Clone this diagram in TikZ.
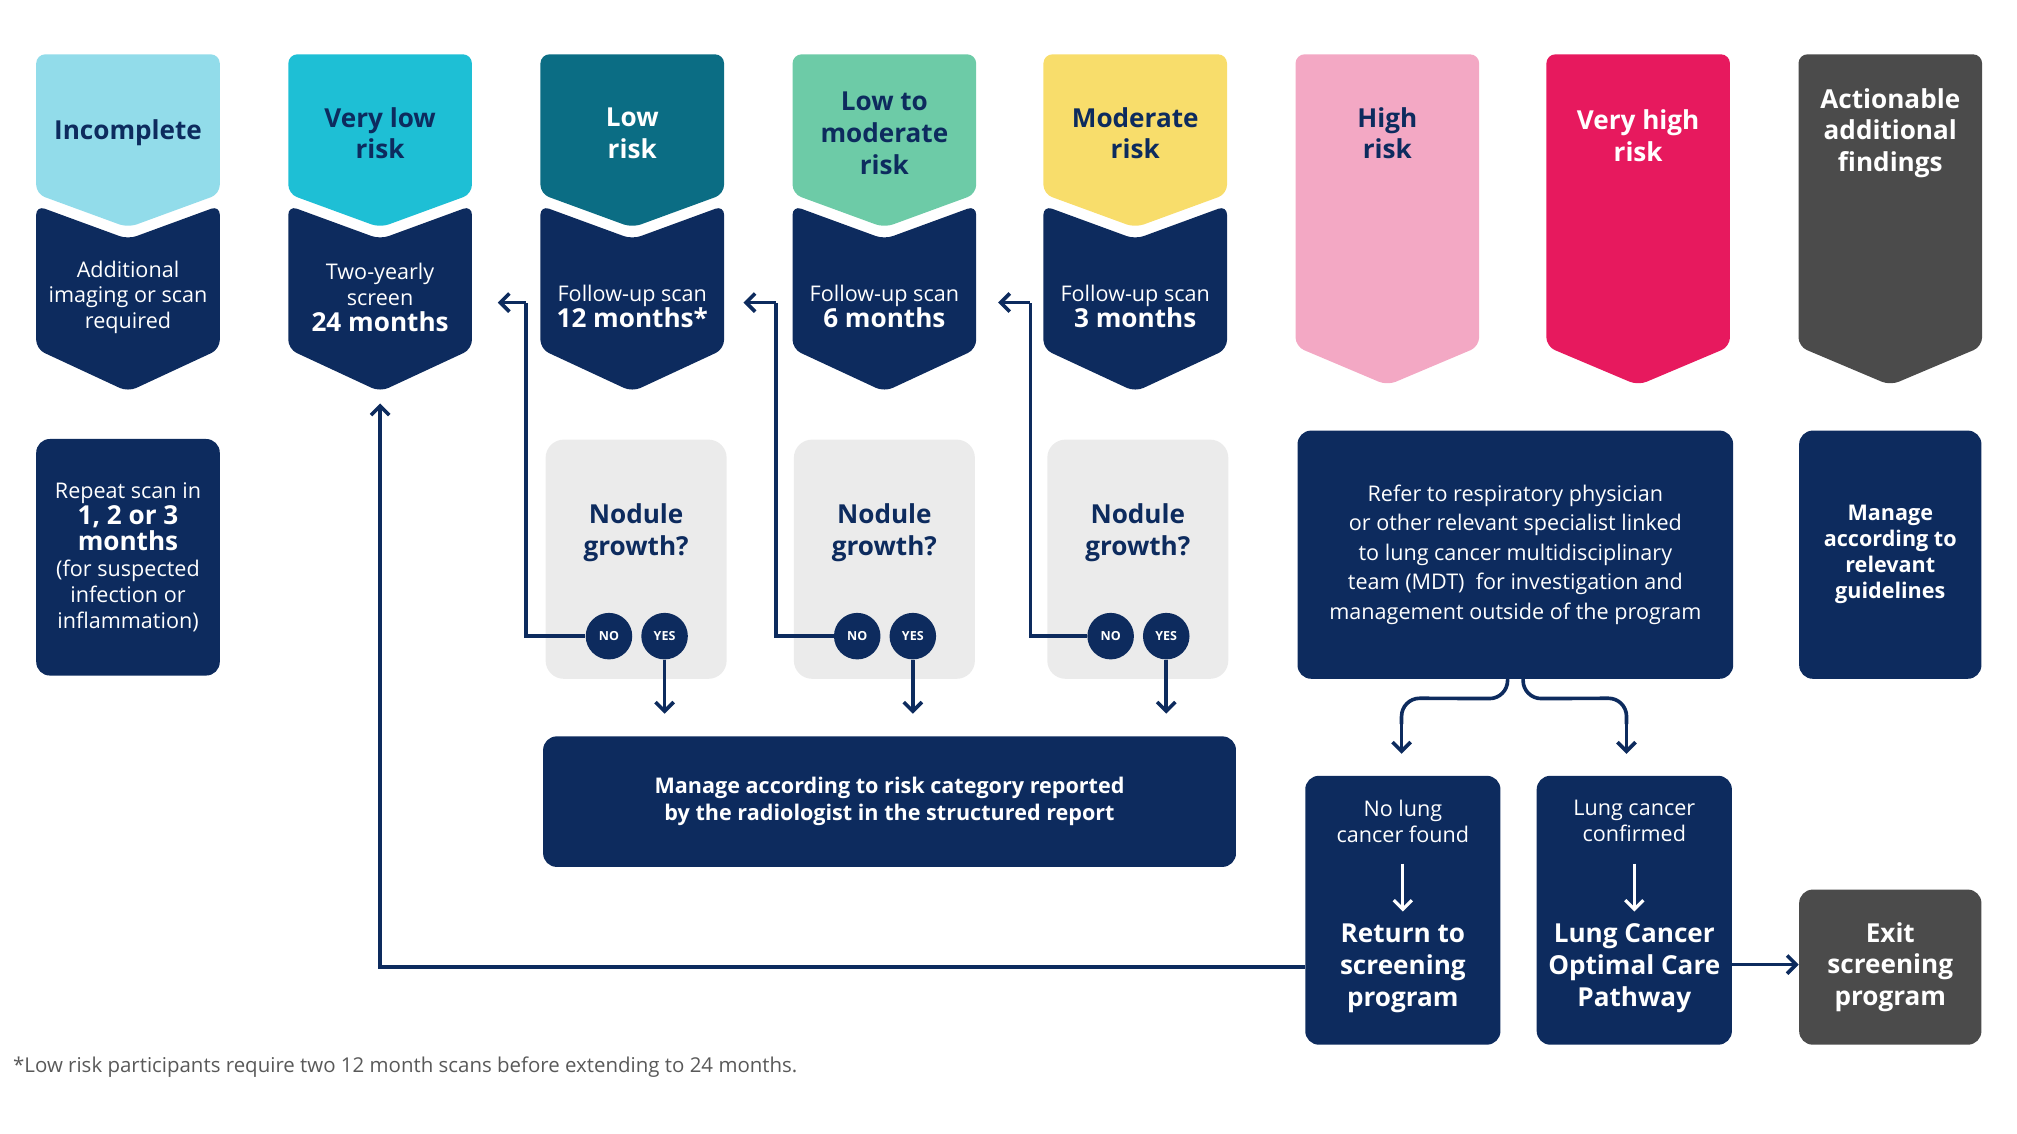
\documentclass[tikz,border=0pt]{standalone}
\usepackage{fontspec}
\setmainfont{Open Sans}
\usetikzlibrary{calc, positioning, arrows.meta}
\definecolor{navy}{HTML}{0D2B5E}
\definecolor{cIncomplete}{HTML}{92DCEA}
\definecolor{cVeryLow}{HTML}{1EBFD5}
\definecolor{cLow}{HTML}{0B6D84}
\definecolor{cLowMod}{HTML}{6DCBA7}
\definecolor{cMod}{HTML}{F8DD6B}
\definecolor{cHigh}{HTML}{F3A8C4}
\definecolor{cVeryHigh}{HTML}{E7195E}
\definecolor{cAction}{HTML}{4B4B4B}
\definecolor{cGrey}{HTML}{EBEBEB}
\begin{document}
\begin{tikzpicture}[x=0.02cm, y=-0.02cm,
  hd/.style={font=\fontsize{11.5}{14}\selectfont\bfseries, align=center, text=navy},
  bd/.style={font=\fontsize{9.5}{11.4}\selectfont, align=center, text=white},
  bx/.style={fill=navy, rounded corners=6pt, draw=none},
  yn/.style={circle, fill=navy, minimum size=0.72cm, inner sep=0pt, text=white, font=\fontsize{5.5}{6}\selectfont\bfseries},
  ar/.style={-{Straight Barb[length=4pt,width=8pt]}, navy, line width=1.6pt},
  ln/.style={navy, line width=1.6pt}]
  \useasboundingbox (0,0) rectangle (1560,877);
  % two-part banners
  \foreach \x/\c in {99/cIncomplete, 294/cVeryLow, 489/cLow, 684/cLowMod, 878/cMod}{
    \fill[\c, rounded corners=4pt] (\x-71,42) -- (\x+71,42) -- (\x+71,150) -- (\x,176) -- (\x-71,150) -- cycle;
    \fill[navy, rounded corners=4pt] (\x-71,159) -- (\x,185) -- (\x+71,159) -- (\x+71,270) -- (\x,303) -- (\x-71,270) -- cycle;
  }
  % single banners
  \foreach \x/\c in {1073/cHigh, 1267/cVeryHigh, 1462/cAction}{
    \fill[\c, rounded corners=4pt] (\x-71,42) -- (\x+71,42) -- (\x+71,268) -- (\x,298) -- (\x-71,268) -- cycle;
  }
  \node[hd] (incomplete) at (99,103) {Incomplete};
  \node[hd] (verylow) at (294,103) {Very low\\risk};
  \node[hd, text=white] (low) at (489,103) {Low\\risk};
  \node[hd] (lowmod) at (684,103) {Low to\\moderate\\risk};
  \node[hd] (mod) at (878,103) {Moderate\\risk};
  \node[hd] (high) at (1073,103) {High\\risk};
  \node[hd, text=white] (veryhigh) at (1267,105) {Very high\\risk};
  \node[hd, text=white] (action) at (1462,103) {Actionable\\additional\\findings};

  \node[bd] (incAct) at (99,230) {Additional\\imaging or scan\\required};
  \node[bd] (vlAct) at (294,230) {Two-yearly\\screen\\{\fontsize{11.5}{14}\selectfont\bfseries 24 months}};
  \node[bd] (lowAct) at (489,237) {Follow-up scan\\{\fontsize{11.5}{14}\selectfont\bfseries 12 months*}};
  \node[bd] (lmAct) at (684,237) {Follow-up scan\\{\fontsize{11.5}{14}\selectfont\bfseries 6 months}};
  \node[bd] (modAct) at (878,237) {Follow-up scan\\{\fontsize{11.5}{14}\selectfont\bfseries 3 months}};
  \coordinate (vlTip) at (294,312);

  % nodule growth boxes
  \foreach \n/\x in {a/492, b/684, c/880}{
    \fill[cGrey, rounded corners=8pt] (\x-70,340) rectangle (\x+70,525);
    \node[hd] (q\n) at (\x,412) {Nodule\\growth?};
    \node[yn] (no\n) at (\x-21,492) {NO};
    \node[yn] (yes\n) at (\x+22,492) {YES};
  }
  \draw[ln] (noa.west) -- (407,492) -- (407,234);
  \draw[ar] (407,234) -- (385,234);
  \draw[ln] (nob.west) -- (600,492) -- (600,234);
  \draw[ar] (600,234) -- (575,234);
  \draw[ln] (noc.west) -- (797,492) -- (797,234);
  \draw[ar] (797,234) -- (772,234);

  \node[bx, minimum width=2.84cm, minimum height=3.66cm] (repeat) at (99,431) {};
  \node[bd] at (repeat) {Repeat scan in\\{\fontsize{11.5}{14}\selectfont\bfseries 1, 2 or 3}\\{\fontsize{11.5}{14}\selectfont\bfseries months}\\(for suspected\\infection or\\inflammation)};
  \node[bx, minimum width=10.72cm, minimum height=2.02cm] (manage) at (688,620) {};
  \node[bd, font=\fontsize{9.5}{12}\selectfont\bfseries] at (manage) {Manage according to risk category reported\\by the radiologist in the structured report};
  \foreach \n in {a,b,c}{\draw[ar] (yes\n.south) -- (yes\n |- 0,552);}

  \node[bx, minimum width=6.74cm, minimum height=3.84cm] (refer) at (1172,429) {};
  \node[bd, font=\fontsize{9.5}{13}\selectfont] at (refer) {Refer to respiratory physician\\or other relevant specialist linked\\to lung cancer multidisciplinary\\team (MDT)\ \ for investigation and\\management outside of the program};
  \node[bx, minimum width=2.82cm, minimum height=3.84cm] (guide) at (1462,429) {};
  \node[bd, font=\fontsize{9.5}{11.4}\selectfont\bfseries] at (guide) {Manage\\according to\\relevant\\guidelines};

  \node[bx, minimum width=3.02cm, minimum height=4.16cm] (nolung) at (1085,704) {};
  \node[bd] (nolungT) at (1085,635) {No lung\\cancer found};
  \node[hd, text=white] (returnT) at (1085,749) {Return to\\screening\\program};
  \node[bx, minimum width=3.02cm, minimum height=4.16cm] (lung) at (1264,704) {};
  \node[bd] (lungT) at (1264,635) {Lung cancer\\confirmed};
  \node[hd, text=white] (ocpT) at (1264,749) {Lung Cancer\\Optimal Care\\Pathway};
  \node[fill=cAction, rounded corners=6pt, minimum width=2.82cm, minimum height=2.4cm] (exit) at (1462,748) {};
  \node[hd, text=white] at (exit) {Exit\\screening\\program};

  \draw[ar, white, line width=1.4pt] (1085,668) -- (1085,705);
  \draw[ar, white, line width=1.4pt] (1264,668) -- (1264,705);
  \draw[ln, rounded corners=8pt] (refer.south) ++(-6,0) -- ++(0,15) -- (1084,540) -- (1084,560);
  \draw[ln, rounded corners=8pt] (refer.south) ++(6,0) -- ++(0,15) -- (1258,540) -- (1258,560);
  \draw[ar] (1084,556) -- (1084,583);
  \draw[ar] (1258,556) -- (1258,583);
  \draw[ln] (nolung.west |- 0,748) -- (294,748) -- (294,330);
  \draw[ar] (294,335) -- (vlTip);
  \draw[ar] (lung.east |- 0,746) -- (exit.west |- 0,746);

  \node[anchor=west, text=black!65, font=\fontsize{9}{11}\selectfont] (note) at (4,825) {*Low risk participants require two 12 month scans before extending to 24 months.};
\end{tikzpicture}
\end{document}
